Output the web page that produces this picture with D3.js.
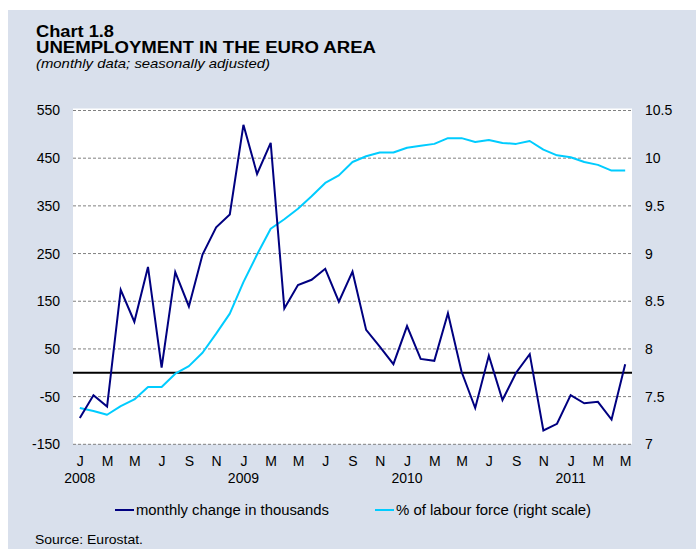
<!DOCTYPE html>
<html>
<head>
<meta charset="utf-8">
<script src="https://cdn.jsdelivr.net/npm/d3@7/dist/d3.min.js"></script>
<style>
  html, body { margin: 0; padding: 0; background: #ffffff; }
  svg { display: block; font-family: "Liberation Sans", Arial, sans-serif; }
</style>
</head>
<body>
<svg id="chart" width="696" height="549"></svg>
<script>
// ---- data ----
const months = ["J","F","M","A","M","J","J","A","S","O","N","D"];
const startYear = 2008;
const nPoints = 41; // Jan 2008 .. May 2011
const monthlyChange = [
  -95, -47, -71, 174, 107, 222, 11, 211, 139, 248, 305, 332,
  520, 417, 482, 135, 184, 195, 218, 149, 212, 90, 55, 18,
  98, 29, 25, 125, 2, -74, 36, -57, 0, 39, -121, -107,
  -47, -64, -61, -98, 18
];
const labourForcePct = [
  7.38, 7.35, 7.31, 7.40, 7.47, 7.60, 7.60, 7.74, 7.82, 7.96, 8.16, 8.37,
  8.70, 8.99, 9.26, 9.36, 9.47, 9.60, 9.74, 9.82, 9.96, 10.02, 10.06, 10.06,
  10.11, 10.13, 10.15, 10.21, 10.21, 10.17, 10.19, 10.16, 10.15, 10.18, 10.09, 10.03,
  10.01, 9.96, 9.93, 9.87, 9.87
];
const leftTicks = [-150, -50, 50, 150, 250, 350, 450, 550];
const rightTicks = [7, 7.5, 8, 8.5, 9, 9.5, 10, 10.5];
const yearLabels = ["2008", "2009", "2010", "2011"];
const seriesNames = ["monthly change in thousands", "% of labour force (right scale)"];
const seriesColors = ["#000080", "#00CCFF"];

// ---- layout ----
const svg = d3.select("#chart");
const W = 696, H = 549;
const plot = { left: 73, right: 632, top: 110.5, bottom: 444.3 };
const FONT = "Liberation Sans, Arial, sans-serif";

svg.append("rect").attr("x", 8).attr("y", 10).attr("width", W - 8).attr("height", H - 10)
  .attr("fill", "#d9e0ec");

svg.append("rect").attr("x", plot.left).attr("y", plot.top - 2)
  .attr("width", plot.right - plot.left).attr("height", plot.bottom - plot.top + 2)
  .attr("fill", "#ffffff");

const idx = d3.range(nPoints);
const x = d3.scalePoint().domain(idx).range([plot.left, plot.right]).padding(0.5);
const yL = d3.scaleLinear().domain([-150, 550]).range([plot.bottom, plot.top]);
const yR = d3.scaleLinear().domain([7, 10.5]).range([plot.bottom, plot.top]);

// gridlines
svg.append("g").selectAll("line").data(leftTicks).join("line")
  .attr("x1", plot.left).attr("x2", plot.right)
  .attr("y1", d => yL(d)).attr("y2", d => yL(d))
  .attr("stroke", "#808080").attr("stroke-width", 1)
  .attr("stroke-dasharray", "3,2");

// zero line
svg.append("line").attr("x1", plot.left).attr("x2", plot.right)
  .attr("y1", yL(0)).attr("y2", yL(0))
  .attr("stroke", "#000").attr("stroke-width", 2);

// left axis
const leftAxis = d3.axisLeft(yL).tickValues(leftTicks).tickSize(0).tickPadding(13)
  .tickFormat(d => String(d));
const gL = svg.append("g").attr("transform", `translate(${plot.left},0)`).call(leftAxis);
gL.select(".domain").remove();
gL.selectAll("text").attr("font-size", 14).attr("fill", "#000").attr("font-family", FONT);

// right axis
const rightAxis = d3.axisRight(yR).tickValues(rightTicks).tickSize(0).tickPadding(13)
  .tickFormat(d => String(d));
const gR = svg.append("g").attr("transform", `translate(${plot.right},0)`).call(rightAxis);
gR.select(".domain").remove();
gR.selectAll("text").attr("font-size", 14).attr("fill", "#000").attr("font-family", FONT);

// bottom axis: month labels every two months
const bottomAxis = d3.axisBottom(x)
  .tickValues(idx.filter(i => i % 2 === 0))
  .tickSize(0).tickPadding(12)
  .tickFormat(i => months[i % 12]);
const gB = svg.append("g").attr("transform", `translate(0,${plot.bottom})`).call(bottomAxis);
gB.select(".domain").remove();
gB.selectAll("text").attr("font-size", 14).attr("fill", "#000").attr("font-family", FONT);

// year labels under January
svg.append("g").selectAll("text").data(yearLabels).join("text")
  .attr("x", (d, i) => x(i * 12))
  .attr("y", plot.bottom + 39)
  .attr("text-anchor", "middle")
  .attr("font-size", 14)
  .text(d => d);

// lines
const lineL = d3.line().x((d, i) => x(i)).y(d => yL(d));
const lineR = d3.line().x((d, i) => x(i)).y(d => yR(d));

svg.append("path").datum(labourForcePct).attr("d", lineR)
  .attr("fill", "none").attr("stroke", seriesColors[1]).attr("stroke-width", 2)
  .attr("stroke-linejoin", "round");
svg.append("path").datum(monthlyChange).attr("d", lineL)
  .attr("fill", "none").attr("stroke", seriesColors[0]).attr("stroke-width", 2)
  .attr("stroke-linejoin", "miter");

// legend
const legendItems = [
  { x: 115, name: seriesNames[0], color: seriesColors[0], len: 193 },
  { x: 375, name: seriesNames[1], color: seriesColors[1], len: 195 }
];
const lg = svg.append("g").selectAll("g").data(legendItems).join("g")
  .attr("transform", d => `translate(${d.x},510)`);
lg.append("line").attr("x1", 0).attr("x2", 19).attr("y1", 0).attr("y2", 0)
  .attr("stroke", d => d.color).attr("stroke-width", 2);
lg.append("text").attr("x", 21).attr("y", 5).attr("font-size", 14)
  .attr("textLength", d => d.len).attr("lengthAdjust", "spacingAndGlyphs")
  .text(d => d.name);

// titles
svg.append("text").attr("x", 36).attr("y", 37).attr("font-size", 16).attr("font-weight", "bold")
  .attr("textLength", 78).attr("lengthAdjust", "spacingAndGlyphs")
  .text("Chart 1.8");
svg.append("text").attr("x", 36).attr("y", 53).attr("font-size", 16).attr("font-weight", "bold")
  .attr("textLength", 340).attr("lengthAdjust", "spacingAndGlyphs")
  .text("UNEMPLOYMENT IN THE EURO AREA");
svg.append("text").attr("x", 36).attr("y", 68).attr("font-size", 13).attr("font-style", "italic")
  .attr("textLength", 234).attr("lengthAdjust", "spacingAndGlyphs")
  .text("(monthly data; seasonally adjusted)");

// source
svg.append("text").attr("x", 35).attr("y", 544).attr("font-size", 13)
  .attr("textLength", 108).attr("lengthAdjust", "spacingAndGlyphs")
  .text("Source: Eurostat.");
</script>
</body>
</html>
